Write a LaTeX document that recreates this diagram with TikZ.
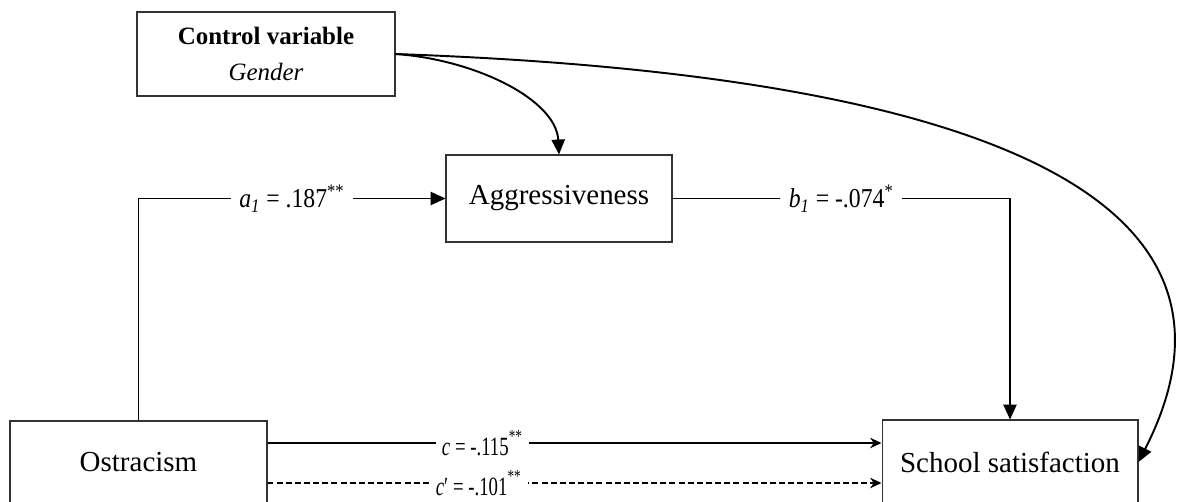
\documentclass[tikz,border=0pt]{standalone}
\usepackage{fontspec}
\usepackage{graphicx}
\setmainfont{Liberation Serif}
\usetikzlibrary{arrows.meta}

% coefficients are printed a little taller than wide
\newcommand{\tallcoef}[2]{\scalebox{1}[#1]{#2}}

\begin{document}
\begin{tikzpicture}[
    x=0.02cm, y=-0.02cm,
    >={Triangle[length=8.5pt,width=7.5pt]},
    box/.style={
        draw=black!80, line width=0.6pt, inner sep=0pt,
        font=\fontsize{16.5}{20}\selectfont
    },
    arr/.style={->, draw=black, line width=1.1pt},
    direct/.style={-{Stealth[length=6.5pt,width=6pt]}, draw=black, line width=0.8pt},
    coef/.style={fill=white, inner xsep=5pt, inner ysep=1pt, font=\fontsize{13.5}{15}\selectfont},
    small coef/.style={coef, inner xsep=3.5pt, font=\fontsize{10.7}{12}\selectfont},
]
\useasboundingbox (0,0) rectangle (1177,501);
% ---------- Layer 0 : covariate ----------
\node[box, minimum width=5.16cm, minimum height=1.68cm, align=center,
      font=\fontsize{14.2}{20.5}\selectfont] (ctrl) at (266,54)
      {\textbf{Control variable}\\\textit{Gender}};
% ---------- Layer 1 : mediator ----------
\node[box, minimum width=4.52cm, minimum height=1.74cm] (aggr) at (559,198.5) {Aggressiveness};
% ---------- Layer 2 : predictor and outcome ----------
\node[box, minimum width=5.14cm, minimum height=1.64cm] (ostr)  at (138.5,462) {Ostracism};
\node[box, minimum width=5.12cm, minimum height=1.68cm] (satis) at (1010,462) {School satisfaction};
% ===================== EDGES =====================
\draw[arr] (ostr.north) |- node[coef, pos=0.75]
    {\tallcoef{1.15}{\textit{a}\textsubscript{\textit{1}} = .187\textsuperscript{**}}} (aggr.west);
\draw[arr] (aggr.east) -| node[coef, pos=0.25]
    {\tallcoef{1.15}{\textit{b}\textsubscript{\textit{1}} = -.074\textsuperscript{*}}} (satis.north);
% total and direct effect
\draw[direct] ([yshift=0.38cm]ostr.east) -- node[small coef, pos=0.35]
    {\tallcoef{1.4}{\textit{c} = -.115\raisebox{1.5pt}{\textsuperscript{**}}}} ([yshift=0.38cm]satis.west);
\draw[direct, dash pattern=on 3.4pt off 1.8pt] ([yshift=-0.42cm]ostr.east) -- node[small coef, pos=0.344]
    {\tallcoef{1.4}{\textit{c}′ = -.101\raisebox{1.5pt}{\textsuperscript{**}}}} ([yshift=-0.42cm]satis.west);
% covariate paths
\draw[arr] (ctrl.east) to[out=-4, in=93, out distance=1.6cm, in distance=1.1cm] (aggr.north);
\draw[arr] (ctrl.east) to[out=-2, in=63, out distance=11.1cm, in distance=6.2cm] (satis.east);
\end{tikzpicture}
\end{document}
